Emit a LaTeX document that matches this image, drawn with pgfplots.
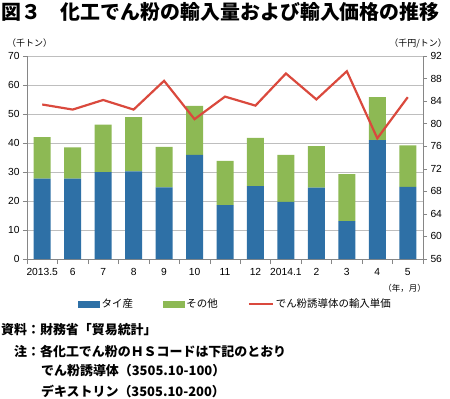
\documentclass[border=0pt]{standalone}
\usepackage{fontspec}
\usepackage{pgfplots}
\pgfplotsset{compat=1.18}
\setmainfont{Liberation Sans}
\newfontfamily\jp{Noto Sans CJK JP}
\definecolor{tblue}{RGB}{46,112,166}
\definecolor{tgreen}{RGB}{141,185,84}
\definecolor{tred}{RGB}{218,73,61}
\definecolor{tgrid}{RGB}{190,190,190}
\definecolor{taxis}{RGB}{134,134,134}
\begin{document}
\begin{tikzpicture}
\path[use as bounding box] (0bp,0bp) rectangle (450bp,-399bp);
\node[anchor=west,inner sep=0pt] at (1bp,-12bp) {\jp\bfseries\fontsize{20}{20}\selectfont 図３　化工でん粉の輸入量および輸入価格の推移};
\node[anchor=west,inner sep=0pt] at (7bp,-43bp) {\jp\fontsize{9}{9}\selectfont （千トン）};
\node[anchor=east,inner sep=0pt] at (447bp,-43bp) {\jp\fontsize{9}{9}\selectfont （千円/トン）};
\node[anchor=east,inner sep=0pt] at (426bp,-288bp) {\jp\fontsize{8.5}{8.5}\selectfont （年，月）};
\node[anchor=west,inner sep=0pt] at (1bp,-330bp) {\jp\bfseries\fontsize{13}{13}\selectfont 資料：財務省「貿易統計」};
\node[anchor=west,inner sep=0pt] at (14bp,-351bp) {\jp\bfseries\fontsize{13}{13}\selectfont 注：各化工でん粉のＨＳコードは下記のとおり};
\node[anchor=west,inner sep=0pt] at (41bp,-371bp) {\jp\bfseries\fontsize{13}{13}\selectfont でん粉誘導体（3505.10-100）};
\node[anchor=west,inner sep=0pt] at (41bp,-391bp) {\jp\bfseries\fontsize{13}{13}\selectfont デキストリン（3505.10-200）};
\begin{axis}[
  at={(27bp,-259bp)}, anchor=south west,
  width=396bp, height=203bp, scale only axis,
  xmin=-0.5, xmax=12.5, ymin=0, ymax=70,
  ytick={0,10,...,70},
  ybar stacked, bar width=17bp,
  xtick={0,...,12},
  xticklabels={2013.5,6,7,8,9,10,11,12,2014.1,2,3,4,5},
  major x tick style={draw=none},
  minor xtick={-0.5,0.5,...,12.5},
  minor tick length=5bp, major tick length=4bp,
  tick align=outside,
  tick style={taxis, thin},
  ymajorgrids, grid style={tgrid, line width=0.7pt},
  axis x line*=bottom, axis y line*=left,
  axis line style={taxis, thin, -},
  /pgf/number format/assume math mode=true,
  tick label style={font=\fontsize{10.3}{10.3}\selectfont},
  xticklabel style={yshift=-2bp},
]
\addplot[fill=tblue, draw=none] coordinates {(0,27.7) (1,27.7) (2,30.0) (3,30.2) (4,24.7) (5,35.9) (6,18.6) (7,25.1) (8,19.7) (9,24.6) (10,13.1) (11,41.0) (12,24.9)};
\addplot[fill=tgreen, draw=none] coordinates {(0,14.3) (1,10.8) (2,16.3) (3,18.7) (4,14.0) (5,16.9) (6,15.2) (7,16.7) (8,16.2) (9,14.3) (10,16.2) (11,14.8) (12,14.3)};
\end{axis}
\begin{axis}[
  at={(27bp,-259bp)}, anchor=south west,
  width=396bp, height=203bp, scale only axis,
  xmin=-0.5, xmax=12.5, ymin=56, ymax=92,
  ytick={56,60,...,92},
  axis x line=none, axis y line*=right,
  axis line style={taxis, thin, -},
  tick align=outside, major tick length=4bp,
  tick style={taxis, thin},
  /pgf/number format/assume math mode=true,
  tick label style={font=\fontsize{10.3}{10.3}\selectfont},
  legend style={at={(0.129,-0.222)}, anchor=west, draw=none, fill=none, inner sep=0pt,
    font=\jp\fontsize{10.5}{10.5}\selectfont,
    /tikz/every even column/.append style={column sep=28bp}},
  legend columns=3, legend cell align=left,
]
\addlegendimage{legend image code/.code={\fill[tblue] (0bp,-3bp) rectangle (21bp,3bp);}}
\addlegendentry{タイ産}
\addlegendimage{legend image code/.code={\fill[tgreen] (0bp,-3bp) rectangle (21bp,3bp);}}
\addlegendentry{その他}
\addlegendimage{legend image code/.code={\draw[tred,line width=2pt] (0bp,0bp) -- (24bp,0bp);}}
\addlegendentry{でん粉誘導体の輸入単価}
\addplot[tred, line width=2.2pt, mark=none] coordinates {(0,83.4) (1,82.5) (2,84.2) (3,82.5) (4,87.6) (5,80.8) (6,84.8) (7,83.2) (8,88.9) (9,84.3) (10,89.3) (11,77.4) (12,84.7)};
\end{axis}
\end{tikzpicture}
\end{document}
